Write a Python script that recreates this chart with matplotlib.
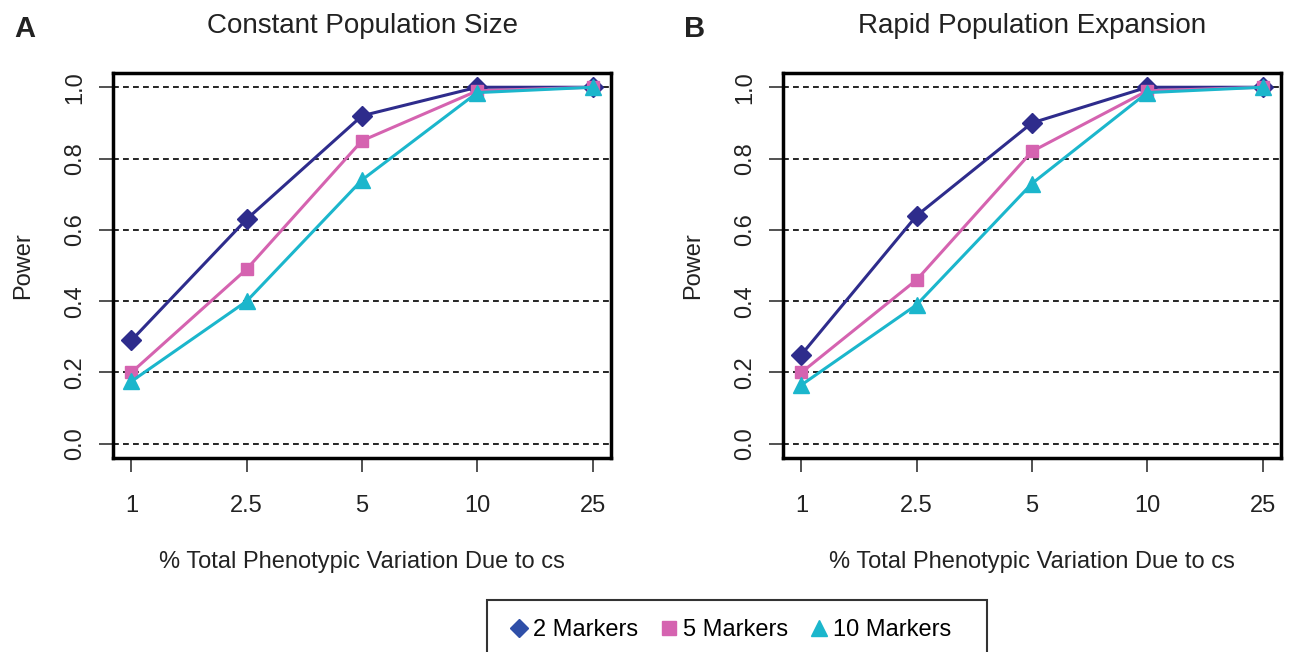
import matplotlib
matplotlib.use("Agg")
import matplotlib.pyplot as plt
from matplotlib.patches import Rectangle
from matplotlib.lines import Line2D

plt.rcParams['font.family'] = ['Liberation Sans', 'DejaVu Sans']

categories = ["1", "2.5", "5", "10", "25"]
series_names = ["2 Markers", "5 Markers", "10 Markers"]

constant_2 = [0.29, 0.63, 0.92, 1.00, 1.00]
constant_5 = [0.20, 0.49, 0.85, 0.99, 1.00]
constant_10 = [0.175, 0.40, 0.74, 0.985, 1.00]

expansion_2 = [0.25, 0.64, 0.90, 1.00, 1.00]
expansion_5 = [0.20, 0.46, 0.82, 0.99, 1.00]
expansion_10 = [0.165, 0.39, 0.73, 0.985, 1.00]

titles = ["Constant Population Size", "Rapid Population Expansion"]
panel_labels = ["A", "B"]
yticks = [0.0, 0.2, 0.4, 0.6, 0.8, 1.0]
ytick_labels = ["0.0", "0.2", "0.4", "0.6", "0.8", "1.0"]

colors = ["#2E2C8C", "#D563B0", "#1BB6CC"]
legend_colors = ["#2F4FA8", "#D563B0", "#1BB6CC"]
markers = ["D", "s", "^"]
msizes = [10, 9, 11]

W, H = 1299, 652
fig = plt.figure(figsize=(W / 100, H / 100), dpi=100)

def fx(px):
    return px / W

def fy(py):
    return 1 - py / H

axes_px = [(113, 73, 611, 458), (783, 73, 1281, 458)]
data = [[constant_2, constant_5, constant_10], [expansion_2, expansion_5, expansion_10]]
x = list(range(1, len(categories) + 1))

for i, (l, t, r, b) in enumerate(axes_px):
    ax = fig.add_axes([fx(l), fy(b), fx(r) - fx(l), fy(t) - fy(b)])
    for yv in yticks:
        ax.axhline(yv, color="black", linestyle=(0, (3.5, 2.5)), linewidth=1.2, zorder=1)
    for j, vals in enumerate(data[i]):
        ax.plot(x, vals, color=colors[j], linewidth=2.2, marker=markers[j],
                markersize=msizes[j], markeredgecolor=colors[j], zorder=3 + j)
    ax.set_xlim(0.84, 5.16)
    ax.set_ylim(-0.04, 1.04)
    ax.set_xticks(x)
    ax.set_xticklabels(categories, fontsize=17, color="#222222")
    ax.set_yticks(yticks)
    ax.set_yticklabels(ytick_labels, fontsize=17, rotation=90, va="center", color="#222222")
    ax.tick_params(axis="both", direction="out", length=10, width=1.2, color="#333333")
    ax.tick_params(axis="x", pad=17)
    ax.tick_params(axis="y", pad=9)
    for s in ax.spines.values():
        s.set_linewidth(2.5)
    ax.set_ylabel("Power", fontsize=17, labelpad=22, color="#222222")
    ax.set_xlabel("% Total Phenotypic Variation Due to cs", fontsize=17, labelpad=24,
                  color="#222222")
    ax.set_title(titles[i], fontsize=20, pad=29, color="#222222")
    fig.text(fx(l - 99), fy(29), panel_labels[i], fontsize=21, fontweight="bold",
             va="center", ha="left", color="#222222")

# legend box
fig.patches.append(Rectangle((fx(487), fy(660)), fx(987) - fx(487), fy(600) - fy(660),
                             transform=fig.transFigure, fill=False, edgecolor="#333333",
                             linewidth=1.5))
handles = [Line2D([], [], linestyle="none", marker=markers[j], color=legend_colors[j],
                  markersize=[9, 10, 12][j]) for j in range(3)]
fig.legend(handles, series_names, loc="center", bbox_to_anchor=(fx(729), fy(630)),
           ncol=3, frameon=False, fontsize=17, handletextpad=0.1, columnspacing=0.8,
           handlelength=1.0)

fig.savefig("out.png", dpi=100)
